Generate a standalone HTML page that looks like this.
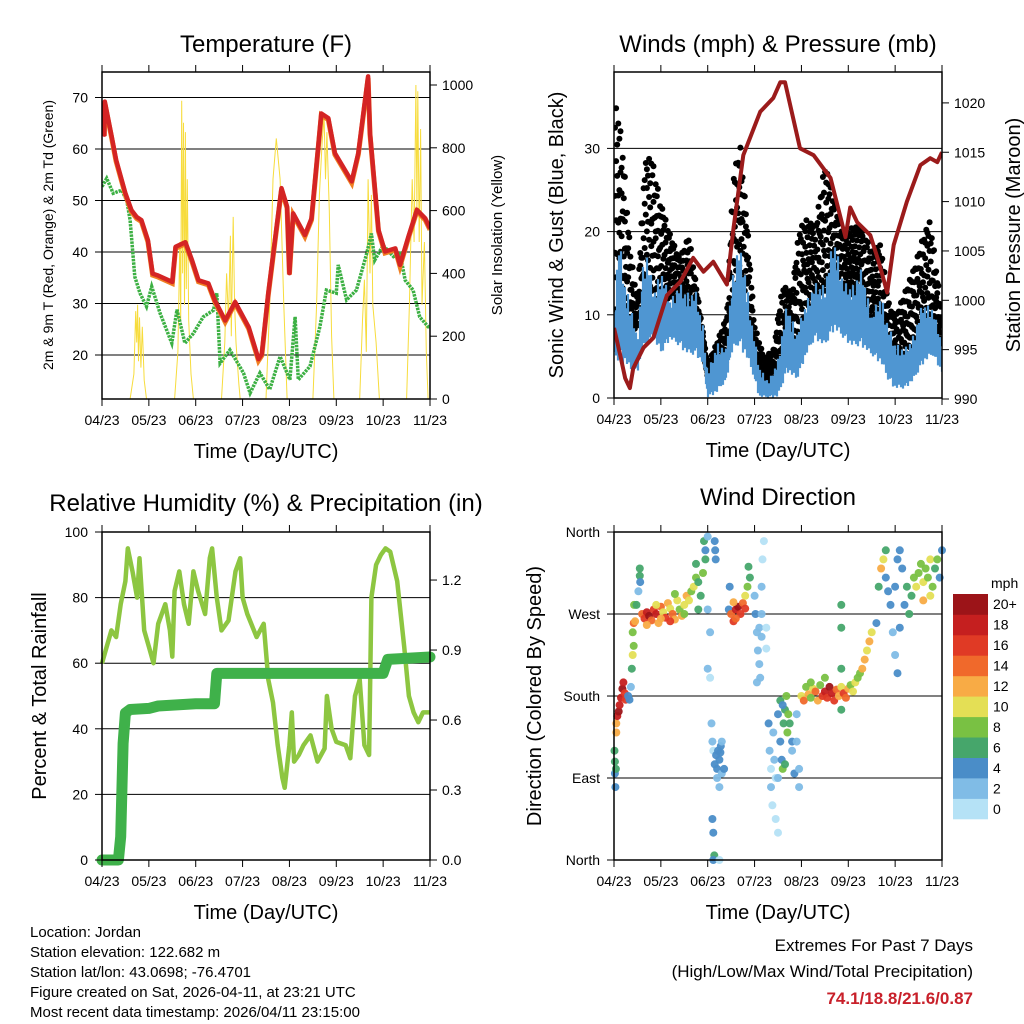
<!DOCTYPE html>
<html><head><meta charset="utf-8">
<style>
html,body{margin:0;padding:0;background:#fff;}
svg{display:block;font-family:"Liberation Sans",sans-serif;}
</style></head>
<body>
<svg id="chart" width="1024" height="1024" viewBox="0 0 1024 1024" xmlns="http://www.w3.org/2000/svg"></svg>
<script>
// ---------- DATA ----------
const xTickLabels = ["04/23","05/23","06/23","07/23","08/23","09/23","10/23","11/23"];
const tempTicks = [20,30,40,50,60,70];
const solarTicks = [0,200,400,600,800,1000];
const windTicks = [0,10,20,30];
const pressTicks = [990,995,1000,1005,1010,1015,1020];
const rhTicks = [0,20,40,60,80,100];
const precipTicks = [0.0,0.3,0.6,0.9,1.2];
const dirTicks = [0,90,180,270,360];
const dirTickLabels = ["North","East","South","West","North"];
const speedBins = ["0","2","4","6","8","10","12","14","16","18","20+"];
const speedColors = ["#b5e2f6","#80bce6","#4a8dc8","#46a66b","#79c143","#e4df55","#f8ab45","#f0692b","#e03a25","#c51f1f","#9c1418"];

const tempDays = [0,0.05,0.06,0.2,0.3,0.5,0.63,0.74,0.84,0.98,1.08,1.18,1.5,1.57,1.78,1.92,2.06,2.27,2.41,2.63,2.84,3.13,3.34,3.41,3.55,3.83,3.95,4.0,4.08,4.33,4.47,4.68,4.83,4.97,5.33,5.47,5.68,5.72,5.9,6.04,6.26,6.36,6.54,6.72,6.9,7.0];
const tempVals = [68,62.8,69.2,62.7,57.9,51.4,48.1,46.8,46.2,42.3,35.8,35.5,34.2,41,41.9,38.4,34.5,33.9,30.6,26.7,30.3,25.4,19.2,20.2,32,52.4,48.8,35.9,47.5,43.3,46.5,66.9,66,59.2,53.7,59.2,74.1,63.1,44.3,40.1,40.7,37.5,43,48.2,46.5,44.6];
const dewDays = [0,0.1,0.24,0.42,0.53,0.6,0.7,0.81,0.95,1.06,1.24,1.49,1.6,1.77,1.95,2.16,2.38,2.45,2.52,2.73,3.02,3.16,3.37,3.58,3.8,4.01,4.12,4.19,4.44,4.65,4.79,5.0,5.04,5.22,5.43,5.65,5.75,5.82,6.0,6.22,6.36,6.47,6.64,6.78,6.96,7.0];
const dewVals = [52.7,54.3,51.4,52,50,46.2,35.2,32,29.4,33.3,28.1,22.3,28.8,22.3,24.2,27.4,28.7,32,18.4,21,16.5,12.6,16.5,13.3,19.7,15.2,27.4,15.2,17.8,25.5,32.6,32,37.5,30.7,32.6,39.7,43.6,38.4,41.3,39.1,39.7,34.5,32.6,27.4,25.5,25.5];
const solarDays = [0,0.6,0.68,0.72,0.74,0.76,0.78,0.8,0.83,0.86,0.9,0.95,1.55,1.62,1.66,1.68,1.7,1.72,1.74,1.76,1.78,1.8,1.82,1.85,1.9,1.95,2.55,2.62,2.66,2.7,2.74,2.76,2.8,2.83,2.86,2.92,2.95,3.5,3.58,3.65,3.72,3.8,3.88,3.95,4.5,4.58,4.64,4.7,4.74,4.77,4.8,4.85,4.9,4.95,5.5,5.56,5.6,5.64,5.68,5.72,5.75,5.78,5.85,5.92,6.5,6.56,6.62,6.66,6.7,6.72,6.74,6.77,6.8,6.83,6.88,6.92,6.96,7];
const solarVals = [0,0,80,280,180,300,120,260,100,230,60,0,0,150,500,250,950,400,880,300,850,350,700,250,80,0,0,180,400,250,520,200,580,300,180,50,0,0,300,700,830,700,300,0,0,300,650,820,900,700,850,600,200,0,0,250,380,150,700,400,650,300,180,0,0,300,700,500,1000,600,980,500,860,300,500,150,0,0];

const pressDays = [0,0.13,0.24,0.34,0.41,0.63,0.84,1.13,1.42,1.69,1.91,2.12,2.41,2.55,2.76,3.12,3.4,3.55,3.65,3.97,4.26,4.62,4.94,5.04,5.19,5.47,5.65,5.83,5.97,6.25,6.54,6.75,6.9,7.0];
const pressVals = [997.2,994.5,992.1,991.1,993.1,995.2,996.2,1000.5,1001.9,1004.3,1002.9,1003.9,1001.6,1007.3,1014.7,1019.1,1020.5,1022.1,1022.1,1015.4,1014.7,1012.4,1006.4,1009.4,1007.9,1006.6,1003.9,1000.8,1005.6,1010,1013.7,1014.4,1014,1015];
const windDays = [0,0.1,0.25,0.35,0.5,0.6,0.7,0.85,1.0,1.2,1.4,1.6,1.75,1.9,2.0,2.2,2.4,2.5,2.65,2.8,2.95,3.1,3.3,3.5,3.7,3.9,4.1,4.3,4.5,4.7,4.9,5.1,5.3,5.5,5.7,5.85,6.0,6.2,6.4,6.6,6.8,7.0];
const windHigh = [10,20,14,12,7,16,18,13,16,12,14,13,13,9,3,7,6,14,19,16,9,4,2,5,12,8,12,14,14,20,14,14,16,10,13,9,7,6,8,12,11,7];
const windLow = [5,4,4,3,3,5,6,7,5,7,6,5,5,4,0,0.5,2,5,6,5,3,0,0,0,3,2,5,7,6,8,7,6,6,5,4,2,1,1,2,4,5,3];
const gustDays = [0,0.1,0.2,0.35,0.5,0.65,0.8,1.0,1.2,1.4,1.6,1.75,1.9,2.0,2.2,2.4,2.55,2.7,2.85,3.0,3.2,3.4,3.6,3.8,3.95,4.1,4.3,4.5,4.7,4.9,5.1,5.3,5.5,5.7,5.85,6.0,6.2,6.4,6.6,6.75,6.9,7.0];
const gustHigh = [37,35,30,18,12,29,30,24,20,17,20,14,8,4,7,10,28,31,21,9,5,6,14,13,21,22,21,29,24,20,21,21,18,19,12,10,13,16,20,22,15,10];
const gustLow = [8,14,12,8,8,10,12,10,12,11,10,8,6,2,2,4,10,14,10,4,1,1,4,6,6,10,12,12,14,12,12,11,9,8,4,3,4,6,8,8,7,6];

const rhDays = [0,0.1,0.2,0.3,0.4,0.5,0.55,0.65,0.75,0.8,0.9,1.0,1.1,1.2,1.35,1.45,1.5,1.55,1.65,1.75,1.85,1.95,2.05,2.2,2.3,2.35,2.45,2.55,2.7,2.85,2.95,3.0,3.1,3.3,3.45,3.55,3.65,3.75,3.85,3.9,4.0,4.05,4.1,4.2,4.3,4.45,4.6,4.75,4.8,4.9,5.0,5.2,5.3,5.4,5.5,5.6,5.7,5.75,5.85,5.95,6.05,6.15,6.3,6.45,6.55,6.65,6.75,6.85,7.0];
const rhVals = [60,65,70,68,78,85,95,88,80,92,70,65,60,72,78,70,62,82,88,78,72,88,82,75,92,95,80,70,73,88,92,80,75,68,72,55,48,35,25,22,35,45,30,32,35,38,30,34,50,40,36,35,31,50,55,35,32,80,90,93,95,94,85,65,50,45,42,45,45];
const precipDays = [0,0.35,0.4,0.45,0.5,0.6,1.0,1.2,2.0,2.4,2.45,6.0,6.1,7.0];
const precipVals = [0,0,0.1,0.5,0.63,0.645,0.65,0.66,0.67,0.67,0.8,0.8,0.86,0.87];

// wind direction points: day, direction (deg), speed (mph)
const dirDays = [0.01,0.02,0.02,0.03,0.04,0.05,0.05,0.07,0.1,0.12,0.15,0.18,0.2,0.23,0.25,0.3,0.33,0.36,0.38,0.4,0.42,0.4,0.42,0.45,0.43,0.48,0.52,0.55,0.55,0.56,
0.6,0.65,0.7,0.75,0.8,0.85,0.9,0.95,1.0,1.05,1.1,1.15,1.2,1.25,1.3,1.35,1.4,1.45,1.5,1.55,1.6,1.65,1.7,1.75,1.8,1.85,1.9,1.95,1.75,1.8,1.0,0.7,1.2,0.9,1.5,1.3,
1.92,1.95,2.0,2.0,2.05,2.0,2.05,2.08,2.1,2.12,2.1,2.12,2.14,2.12,2.25,2.15,2.16,2.17,
2.15,2.18,2.2,2.22,2.25,2.28,2.3,2.3,2.2,2.25,2.35,2.27,
2.45,2.5,2.55,2.6,2.65,2.7,2.75,2.8,2.85,2.9,2.8,2.6,2.55,2.87,2.47,
3.0,3.02,3.05,3.07,3.1,3.05,3.12,3.1,3.15,3.17,3.2,3.15,3.15,3.25,3.25,
3.3,3.32,3.35,3.35,3.38,3.4,3.42,3.45,3.45,3.5,3.5,3.55,3.55,3.58,3.6,3.62,3.65,3.68,3.7,3.72,3.75,3.8,3.8,3.85,3.9,3.9,3.95,3.95,3.65,3.6,3.5,
4.0,4.05,4.1,4.15,4.2,4.25,4.3,4.35,4.4,4.45,4.5,4.55,4.6,4.65,4.7,4.75,4.8,4.85,4.9,4.95,5.0,5.05,5.1,5.15,5.2,5.25,5.3,5.35,5.4,5.45,5.5,4.85,4.85,4.85,4.85,4.5,4.2,
5.6,5.65,5.7,5.75,5.8,5.85,5.9,5.95,6.0,6.05,6.1,6.15,6.1,6.2,6.25,6.3,6.35,6.4,6.45,6.5,6.55,6.6,6.65,6.7,6.75,6.8,6.85,6.9,6.95,7.0,6.0,6.05,5.8,6.6,6.75];
const dirVals = [120,108,95,80,100,140,150,158,163,170,178,188,195,183,176,180,176,190,210,225,235,250,260,262,280,280,295,312,320,305,
270,265,272,268,263,275,270,260,278,272,266,282,276,270,264,285,275,268,280,290,285,295,300,310,305,290,315,330,325,275,265,258,262,280,270,292,
350,340,355,275,250,210,200,150,130,120,45,30,5,0,0,350,340,330,
105,115,100,120,110,125,95,130,90,80,100,118,
275,270,262,275,278,270,282,290,300,310,276,265,283,322,300,
290,270,250,230,215,195,200,255,245,330,350,300,270,232,255,
150,120,100,80,60,140,110,90,45,30,160,175,130,110,100,150,165,180,140,160,150,130,120,95,160,130,100,80,105,170,90,
180,175,190,182,178,188,185,175,192,180,185,178,190,183,175,187,180,190,183,178,188,192,185,195,200,205,210,220,230,240,250,165,255,280,210,200,195,
260,300,320,330,310,295,280,250,300,330,340,320,255,280,300,270,290,310,300,315,325,305,320,310,330,300,320,330,310,340,225,205,340,285,290];
const dirSpeeds = [6,6,4,4,6,12,13,18,20,18,18,20,19,16,16,4,4,2,6,10,8,8,14,12,8,6,2,6,6,4,
14,16,18,20,14,16,18,12,14,10,16,12,10,14,12,10,8,12,10,12,10,8,10,8,6,6,8,6,6,6,12,12,16,10,8,8,
6,4,2,2,2,2,0,2,2,0,4,4,6,4,0,4,4,4,
4,4,4,4,4,4,3,2,2,2,4,4,
4,14,16,18,20,16,14,10,8,6,16,14,12,6,4,
2,4,2,2,2,2,2,2,2,0,0,2,2,0,0,
4,2,0,2,0,2,2,0,0,0,4,6,4,4,8,6,6,8,8,8,6,4,2,4,2,2,2,2,6,4,2,
10,14,8,12,8,10,14,12,8,16,18,16,20,18,16,14,12,10,16,14,12,8,10,10,8,8,12,12,10,12,10,6,6,6,6,8,8,
4,6,12,10,4,4,4,2,4,4,4,4,4,4,6,6,6,8,10,8,8,10,8,8,10,8,6,8,4,4,2,4,6,12,10];

// ---------- RENDER ----------
const NS = "http://www.w3.org/2000/svg";
const svg = document.getElementById("chart");
function mk(tag, attrs, parent) {
  const el = document.createElementNS(NS, tag);
  for (const k in attrs) el.setAttribute(k, attrs[k]);
  (parent || svg).appendChild(el);
  return el;
}
function txt(s, x, y, size, anchor, parent, extra) {
  const t = mk("text", Object.assign({x: x, y: y, "font-size": size, "text-anchor": anchor || "middle", fill: "#000"}, extra || {}), parent);
  t.textContent = s;
  return t;
}
function interp(days, vals, d) {
  if (d <= days[0]) return vals[0];
  for (let i = 1; i < days.length; i++) {
    if (d <= days[i]) {
      const f = (d - days[i-1]) / ((days[i] - days[i-1]) || 1);
      return vals[i-1] + f * (vals[i] - vals[i-1]);
    }
  }
  return vals[vals.length - 1];
}
function linePath(days, vals, xf, yf) {
  return days.map((d, i) => (i ? "L" : "M") + xf(d).toFixed(1) + "," + yf(vals[i]).toFixed(1)).join("");
}
function panelFrame(P, name) {
  const g = mk("g", {});
  
  
  return g;
}
function xAxis(P, g) {
  const ax = mk("g", {}, g);
  
  
  xTickLabels.forEach((lab, i) => {
    const x = P.x0 + i * (P.x1 - P.x0) / 7;
    mk("line", {x1: x, x2: x, y1: P.y1, y2: P.y1 + 7, stroke: "#000", "stroke-width": 1}, ax);
    mk("line", {x1: x, x2: x, y1: P.y0, y2: P.y0 - 7, stroke: "#000", "stroke-width": 1}, ax);
    const t = txt(lab, x, P.y1 + 26, 14, "middle", ax);
    
    
  });
  const tt = txt("Time (Day/UTC)", (P.x0 + P.x1) / 2, P.y1 + 59, 20, "middle", ax);
  
  
}
function yAxis(P, g, ticks, labels, yf, side, name) {
  const ax = mk("g", {}, g);
  
  
  ticks.forEach((v, i) => {
    const y = yf(v);
    if (side === "left") {
      mk("line", {x1: P.x0 - 7, x2: P.x0, y1: y, y2: y, stroke: "#000"}, ax);
      const t = txt(labels[i], P.x0 - 14, y + 5, 14, "end", ax);
      
      
    } else {
      mk("line", {x1: P.x1, x2: P.x1 + 7, y1: y, y2: y, stroke: "#000"}, ax);
      const t = txt(labels[i], P.x1 + 12, y + 5, 14, "start", ax);
      
      
    }
  });
}
function grid(P, g, ticks, yf) {
  ticks.forEach(v => {
    const y = yf(v);
    if (y > P.y0 + 1 && y < P.y1 - 1) {
      const l = mk("line", {x1: P.x0, x2: P.x1, y1: y, y2: y, stroke: "#000", "stroke-width": 1}, g);
      
      
    }
  });
}
function box(P, g) {
  const r = mk("rect", {x: P.x0, y: P.y0, width: P.x1 - P.x0, height: P.y1 - P.y0, fill: "none", stroke: "#000", "stroke-width": 1.5}, g);
  
  
}
function title(s, x, y, g) {
  const t = txt(s, x, y, 24, "middle", g);
  
  
}
function vtitle(s, x, y, size, g, name) {
  const t = txt(s, 0, 0, size, "middle", g, {transform: "translate(" + x + "," + y + ") rotate(-90)"});
  
  
}
const jitter = [0.05, 0.55, 0.3, 0.85, 0.15, 0.7, 0.42, 0.95, 0.22, 0.62, 0.1, 0.78, 0.35, 0.5, 0.9];

// Panel 1: Temperature
(function(){
  const P = {x0: 102, x1: 430, y0: 72, y1: 399};
  const xf = d => P.x0 + d * (P.x1 - P.x0) / 7;
  const yT = v => 355 - (v - 20) * 5.15;
  const yS = v => 399 - v * 0.314;
  const g = panelFrame(P, "temperature-panel");
  const clip = mk("clipPath", {id: "c1"}, g);
  mk("rect", {x: P.x0, y: P.y0, width: P.x1 - P.x0, height: P.y1 - P.y0}, clip);
  grid(P, g, tempTicks, yT);
  const sol = mk("path", {d: linePath(solarDays, solarVals, xf, yS), fill: "none", stroke: "#f7dc3c", "stroke-width": 1, "clip-path": "url(#c1)"}, g);
  
  
  const dew = mk("path", {d: linePath(dewDays, dewVals, xf, yT), fill: "none", stroke: "#3cb043", "stroke-width": 3.5, "stroke-dasharray": "2.5 1", "clip-path": "url(#c1)"}, g);
  
  
  const t9 = mk("path", {d: linePath(tempDays, tempVals, xf, v => yT(v) + 1.5), fill: "none", stroke: "#f07f22", "stroke-width": 5, "clip-path": "url(#c1)"}, g);
  
  
  const t2 = mk("path", {d: linePath(tempDays, tempVals, xf, yT), fill: "none", stroke: "#d42424", "stroke-width": 4.5, "stroke-linejoin": "round", "clip-path": "url(#c1)"}, g);
  
  
  box(P, g);
  xAxis(P, g);
  yAxis(P, g, tempTicks, tempTicks.map(String), yT, "left", "y-axis-temperature");
  yAxis(P, g, solarTicks, solarTicks.map(String), yS, "right", "y-axis-solar");
  title("Temperature (F)", 266, 52, g);
  vtitle("2m & 9m T (Red, Orange) & 2m Td (Green)", 53, 235, 14, g, "y-axis-title");
  vtitle("Solar Insolation (Yellow)", 502, 235, 15, g, "y2-axis-title");
})();

// Panel 2: Winds & Pressure
(function(){
  const P = {x0: 614, x1: 942, y0: 72, y1: 398};
  const xf = d => P.x0 + d * (P.x1 - P.x0) / 7;
  const yW = v => 398 - v * 8.32;
  const yP = v => 399 - (v - 990) * 9.87;
  const g = panelFrame(P, "winds-pressure-panel");
  const clip = mk("clipPath", {id: "c2"}, g);
  mk("rect", {x: P.x0, y: P.y0, width: P.x1 - P.x0, height: P.y1 - P.y0}, clip);
  grid(P, g, windTicks, yW);
  const gg = mk("g", {"clip-path": "url(#c2)", fill: "#000"}, g);
  
  
  let k = 0;
  for (let x = P.x0 + 1; x <= P.x1; x += 1.1) {
    const d = (x - P.x0) / (P.x1 - P.x0) * 7;
    const hi = interp(gustDays, gustHigh, d), lo = interp(gustDays, gustLow, d);
    for (let j = 0; j < 4; j++) {
      const f = jitter[(k++) % jitter.length];
      const c = mk("circle", {cx: x.toFixed(1), cy: yW(lo + (hi - lo) * f).toFixed(1), r: 3}, gg);
      
      
    }
  }
  // sonic wind spiky band
  let p = "";
  let m = 0;
  for (let x = P.x0; x <= P.x1; x += 1) {
    const d = (x - P.x0) / (P.x1 - P.x0) * 7;
    const hi = interp(windDays, windHigh, d), lo = interp(windDays, windLow, d);
    const f1 = jitter[(m++) % jitter.length];
    const top = lo + (hi - lo) * (0.45 + 0.55 * f1);
    const bot = lo + (hi - lo) * 0.25 * jitter[(m + 5) % jitter.length];
    p += "M" + x + "," + yW(top).toFixed(1) + "L" + x + "," + yW(bot).toFixed(1);
  }
  const wb = mk("path", {d: p, fill: "none", stroke: "#4f96d2", "stroke-width": 2.2, "clip-path": "url(#c2)"}, g);
  
  
  const pl = mk("path", {d: linePath(pressDays, pressVals, xf, yP), fill: "none", stroke: "#9b1b1b", "stroke-width": 4, "stroke-linejoin": "round", "clip-path": "url(#c2)"}, g);
  
  
  box(P, g);
  xAxis(P, g);
  yAxis(P, g, windTicks, windTicks.map(String), yW, "left", "y-axis-wind");
  yAxis(P, g, pressTicks, pressTicks.map(String), yP, "right", "y-axis-pressure");
  title("Winds (mph) & Pressure (mb)", 778, 52, g);
  vtitle("Sonic Wind & Gust (Blue, Black)", 563, 235, 20, g, "y-axis-title");
  vtitle("Station Pressure (Maroon)", 1020, 235, 20, g, "y2-axis-title");
})();

// Panel 3: RH & Precip
(function(){
  const P = {x0: 102, x1: 430, y0: 532, y1: 860};
  const xf = d => P.x0 + d * (P.x1 - P.x0) / 7;
  const yR = v => 860 - v * 3.28;
  const yPr = v => 860 - v * 233.3;
  const g = panelFrame(P, "humidity-precip-panel");
  grid(P, g, rhTicks, yR);
  const rh = mk("path", {d: linePath(rhDays, rhVals, xf, yR), fill: "none", stroke: "#8dc641", "stroke-width": 4.5, "stroke-linejoin": "round"}, g);
  
  
  const pr = mk("path", {d: linePath(precipDays, precipVals, xf, yPr), fill: "none", stroke: "#3fb14a", "stroke-width": 11, "stroke-linecap": "round", "stroke-linejoin": "round"}, g);
  
  
  box(P, g);
  xAxis(P, g);
  yAxis(P, g, rhTicks, rhTicks.map(String), yR, "left", "y-axis-humidity");
  yAxis(P, g, precipTicks, precipTicks.map(v => v.toFixed(1)), yPr, "right", "y-axis-precip");
  title("Relative Humidity (%) & Precipitation (in)", 266, 511, g);
  vtitle("Percent & Total Rainfall", 46, 696, 20, g, "y-axis-title");
})();

// Panel 4: Wind direction
(function(){
  const P = {x0: 614, x1: 942, y0: 532, y1: 860};
  const xf = d => P.x0 + d * (P.x1 - P.x0) / 7;
  const yD = v => 860 - v * 0.911;
  const g = panelFrame(P, "wind-direction-panel");
  grid(P, g, dirTicks, yD);
  const pg = mk("g", {"fill-opacity": 0.95}, g);
  
  
  dirDays.forEach((d, i) => {
    const bin = Math.min(10, Math.floor(dirSpeeds[i] / 2));
    const c = mk("circle", {cx: xf(d).toFixed(1), cy: yD(dirVals[i]).toFixed(1), r: 4, fill: speedColors[bin]}, pg);
    
    
  });
  box(P, g);
  xAxis(P, g);
  yAxis(P, g, dirTicks, dirTickLabels, yD, "left", "y-axis-direction");
  title("Wind Direction", 778, 505, g);
  vtitle("Direction (Colored By Speed)", 541, 696, 20, g, "y-axis-title");
  const cb = mk("g", {}, g);
  
  
  const h = 225 / 11;
  speedBins.forEach((lab, i) => {
    const y = 819 - (i + 1) * h;
    const r = mk("rect", {x: 953, y: y.toFixed(1), width: 35, height: (h + 0.3).toFixed(1), fill: speedColors[i]}, cb);
    
    
    const t = txt(lab, 993, y + h / 2 + 5, 14, "start", cb);
    
    
  });
  const u = txt("mph", 991, 588, 14, "start", cb);
  
  
})();

// Footer
(function(){
  const g = mk("g", {});
  
  
  const lines = ["Location: Jordan","Station elevation: 122.682 m","Station lat/lon: 43.0698; -76.4701","Figure created on Sat, 2026-04-11, at 23:21 UTC","Most recent data timestamp: 2026/04/11 23:15:00"];
  lines.forEach((s, i) => {
    const t = txt(s, 30, 937 + i * 20, 15, "start", g);
    
    
  });
  const g2 = mk("g", {});
  
  
  const a = txt("Extremes For Past 7 Days", 973, 951, 17, "end", g2);
  
  
  const b = txt("(High/Low/Max Wind/Total Precipitation)", 973, 977, 17, "end", g2);
  
  
  const c = txt("74.1/18.8/21.6/0.87", 973, 1004, 17, "end", g2, {fill: "#c8202a", "font-weight": "bold"});
  
  
})();
</script>
</body></html>
